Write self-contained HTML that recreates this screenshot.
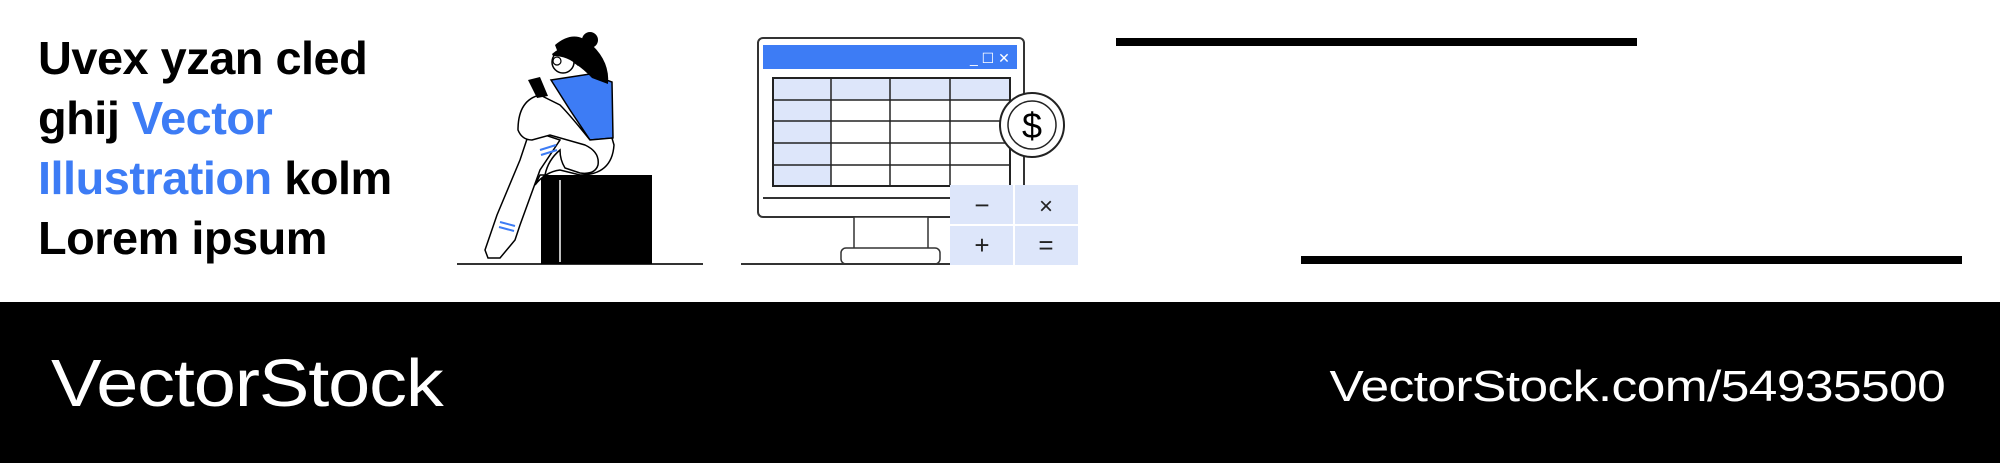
<!DOCTYPE html>
<html><head><meta charset="utf-8"><style>
html,body{margin:0;padding:0}
body{width:2000px;height:463px;background:#fff;position:relative;overflow:hidden;font-family:"Liberation Sans",sans-serif}
.t{position:absolute;left:38px;top:28px;font-weight:bold;font-size:46px;line-height:60px;color:#000;letter-spacing:-0.5px;transform:scaleX(1.02);transform-origin:0 0;white-space:nowrap}
.b{color:#3d7cf5}
.foot{position:absolute;left:0;top:302px;width:2000px;height:161px;background:#000}
.vs{position:absolute;left:51px;top:345px;color:#fff;font-size:67px;letter-spacing:-1px;transform:scaleX(1.13);transform-origin:0 0;white-space:nowrap}
.url{position:absolute;right:55px;top:362px;color:#fff;font-size:44px;letter-spacing:-0.5px;transform:scaleX(1.17);transform-origin:100% 0;white-space:nowrap}
</style></head><body>
<div class="t">Uvex yzan cled<br>ghij <span class="b">Vector</span><br><span class="b">Illustration</span> kolm<br>Lorem ipsum</div>
<svg width="2000" height="302" style="position:absolute;left:0;top:0">
<rect x="1116" y="38" width="521" height="8" fill="#000"/>
<rect x="1301" y="256" width="661" height="8" fill="#000"/>
<line x1="457" y1="264" x2="703" y2="264" stroke="#333" stroke-width="2"/>
<rect x="541" y="175" width="111" height="89" fill="#000"/>
<line x1="560" y1="180" x2="560" y2="262" stroke="#fff" stroke-width="1.5"/>
<path d="M530 130 L520 160 L497 215 L485 250 L488 258 L500 258 L515 240 L520 225 L540 170 L560 140 Z" fill="#fff" stroke="#000" stroke-width="1.5"/>
<path d="M500 222 L515 226 M499 227 L514 231" stroke="#3d7cf5" stroke-width="2"/>
<path d="M551 80 L590 74 L612 82 L613 138 L590 140 L570 110 Z" fill="#3d7cf5" stroke="#000" stroke-width="1.5"/>
<path d="M555 45 Q575 28 592 45 Q610 62 608 84 L592 78 Q575 60 560 58 Z" fill="#000"/>
<circle cx="590" cy="40" r="8" fill="#000"/>
<circle cx="563" cy="62" r="11" fill="#fff" stroke="#000" stroke-width="1.5"/>
<path d="M552 54 Q565 42 578 52 L578 66 Q568 56 553 56 Z" fill="#000"/>
<circle cx="557" cy="61" r="4" fill="none" stroke="#000" stroke-width="1.2"/>
<path d="M540 95 Q518 100 518 130 Q522 140 532 140 L550 135 L585 145 Q600 152 598 165 Q595 175 580 173 L565 168 Q560 160 560 150 Q548 160 545 175 L540 175 L535 185 Q545 172 560 170 L580 175 Q612 175 614 145 L612 138 L590 140 Q570 115 560 105 Z" fill="#fff" stroke="#000" stroke-width="1.5"/>
<path d="M540 150 L556 145 M541 155 L557 150" stroke="#3d7cf5" stroke-width="2"/>
<path d="M528 80 L540 77 L548 96 L537 98 Z" fill="#000"/>
<rect x="758" y="38" width="266" height="179" rx="5" fill="#fff" stroke="#333" stroke-width="2"/>
<rect x="763" y="45" width="254" height="24" fill="#3d7cf5"/>
<text x="970" y="63" font-size="14" fill="#fff" font-family="Liberation Sans">_ ☐ ✕</text>
<rect x="773" y="78" width="237" height="108" fill="#fff" stroke="#222" stroke-width="2"/>
<rect x="774" y="79" width="235" height="21" fill="#dde6fa"/>
<rect x="774" y="100" width="57" height="85" fill="#dde6fa"/>
<g stroke="#222" stroke-width="1.5">
<line x1="831" y1="78" x2="831" y2="186"/><line x1="890" y1="78" x2="890" y2="186"/><line x1="950" y1="78" x2="950" y2="186"/>
<line x1="773" y1="100" x2="1010" y2="100"/><line x1="773" y1="121" x2="1010" y2="121"/><line x1="773" y1="143" x2="1010" y2="143"/><line x1="773" y1="165" x2="1010" y2="165"/>
</g>
<line x1="763" y1="198" x2="1017" y2="198" stroke="#333" stroke-width="2"/>
<rect x="854" y="217" width="74" height="33" fill="#fff" stroke="#333" stroke-width="1.5"/>
<rect x="841" y="248" width="99" height="16" rx="5" fill="#fff" stroke="#333" stroke-width="1.5"/>
<line x1="741" y1="264" x2="955" y2="264" stroke="#333" stroke-width="2"/>
<circle cx="1032" cy="125" r="32" fill="#fff" stroke="#222" stroke-width="2"/>
<circle cx="1032" cy="125" r="24" fill="none" stroke="#222" stroke-width="1.5"/>
<text x="1032" y="138" font-size="36" text-anchor="middle" font-family="Liberation Sans">$</text>
<rect x="950" y="185" width="128" height="80" fill="#dde6fa"/>
<line x1="1014" y1="185" x2="1014" y2="265" stroke="#fff" stroke-width="2"/>
<line x1="950" y1="225" x2="1078" y2="225" stroke="#fff" stroke-width="2"/>
<text x="982" y="214" font-size="26" text-anchor="middle" fill="#222">−</text>
<text x="1046" y="214" font-size="24" text-anchor="middle" fill="#222">×</text>
<text x="982" y="254" font-size="26" text-anchor="middle" fill="#222">+</text>
<text x="1046" y="254" font-size="26" text-anchor="middle" fill="#222">=</text>
</svg>
<div class="foot"></div>
<div class="vs">VectorStock</div>
<div class="url">VectorStock.com/54935500</div>
</body></html>
